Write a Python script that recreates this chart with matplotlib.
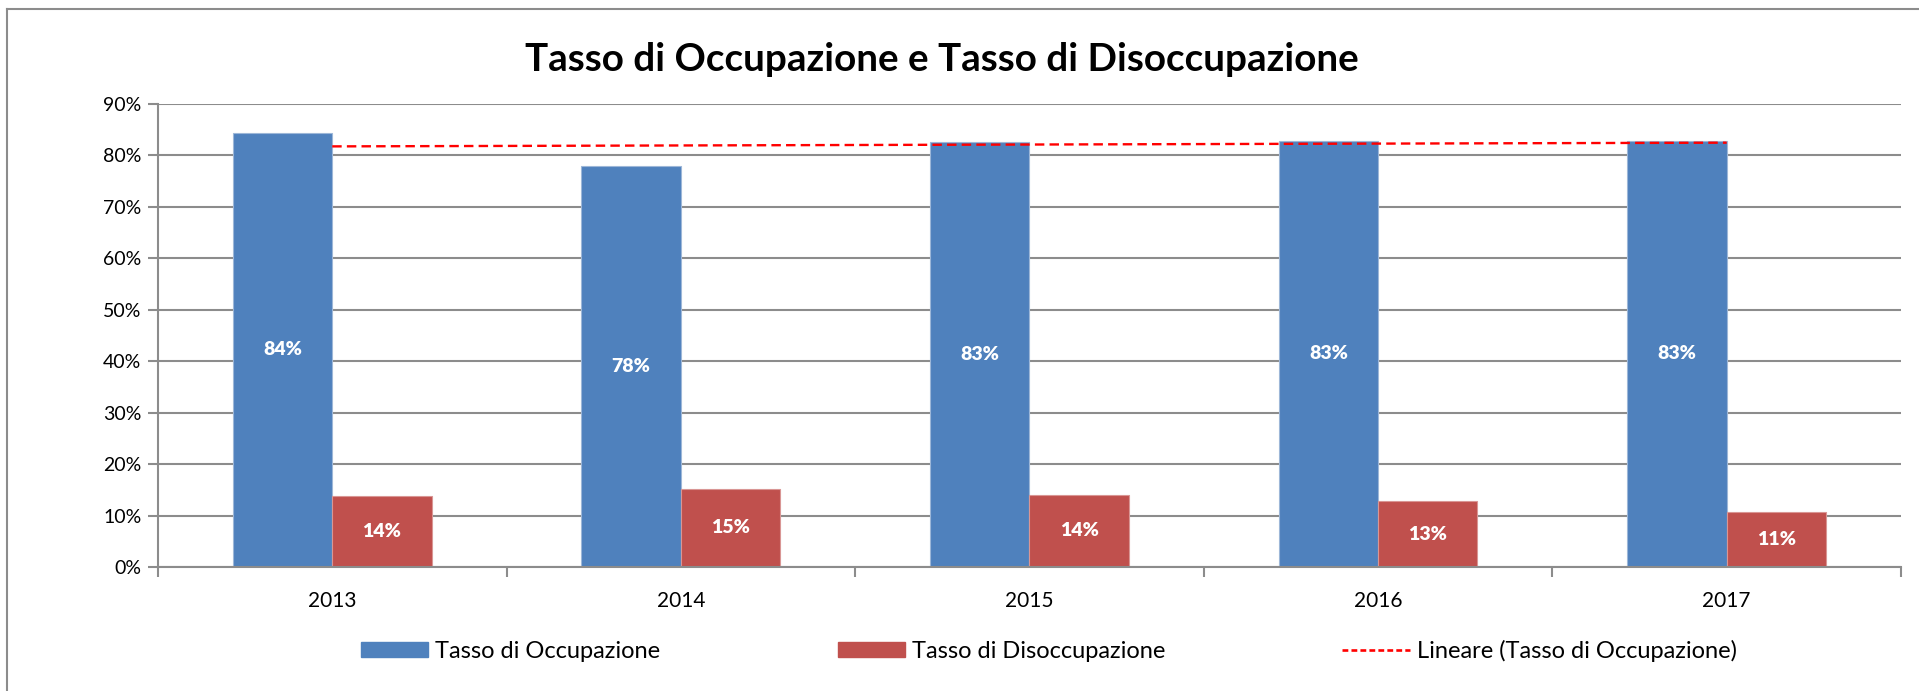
import numpy as np
import matplotlib
matplotlib.use("Agg")
import matplotlib.pyplot as plt
from matplotlib.ticker import PercentFormatter, FixedLocator
from matplotlib.lines import Line2D

plt.rcParams['font.family'] = ['Lato', 'DejaVu Sans']

# data (percent)
years = ['2013', '2014', '2015', '2016', '2017']
occupazione = [84.4, 77.9, 82.6, 82.9, 82.8]
disoccupazione = [13.7, 15.2, 14.0, 12.8, 10.7]

title = 'Tasso di Occupazione e Tasso di Disoccupazione'
label_occ = 'Tasso di Occupazione'
label_dis = 'Tasso di Disoccupazione'
label_trend = 'Lineare (Tasso di Occupazione)'

blue = '#4F81BD'
red = '#C0504D'
grid_col = '#8C8C8C'

fig = plt.figure(figsize=(19.19, 6.91), dpi=100)
ax = fig.add_axes([0.0823, 0.1795, 0.9083, 0.67])

x = np.arange(len(years))
w = 0.285
b1 = ax.bar(x - w / 2, occupazione, w, color=blue, edgecolor='#9DB7D8', linewidth=0.8, zorder=2)
b2 = ax.bar(x + w / 2, disoccupazione, w, color=red, edgecolor='#D99694', linewidth=0.8, zorder=2)

# linear trend of the employment rate, like excel's trendline
k, q = np.polyfit(x, occupazione, 1)
ax.plot(x, k * x + q, color='#FF0000', linestyle=(0, (4, 2.2)), linewidth=1.7, zorder=3)

# data labels in the middle of each bar
for bars, vals in ((b1, occupazione), (b2, disoccupazione)):
    for r, v in zip(bars, vals):
        ax.text(r.get_x() + r.get_width() / 2, v / 2, f'{v:.0f}%', ha='center', va='center',
                color='white', fontsize=14, fontweight='heavy', zorder=4)

ax.set_xlim(-0.5, len(years) - 0.5)
ax.set_ylim(0, 90)
ax.yaxis.set_major_locator(FixedLocator(np.arange(0, 91, 10)))
ax.yaxis.set_major_formatter(PercentFormatter(100, decimals=0))
ax.set_xticks(x)
ax.set_xticklabels(years)
ax.xaxis.set_minor_locator(FixedLocator(np.arange(-0.5, len(years), 1.0)))

ax.tick_params(axis='x', which='major', length=0, pad=17, labelsize=15)
ax.tick_params(axis='x', which='minor', length=7, width=1.5, color=grid_col, direction='out')
ax.tick_params(axis='y', length=7, width=1.5, color=grid_col, pad=5, labelsize=14)

ax.grid(axis='y', color=grid_col, linewidth=1.5, zorder=0)
ax.set_axisbelow(True)
for s in ('top', 'right'):
    ax.spines[s].set_visible(False)
for s in ('left', 'bottom'):
    ax.spines[s].set_color(grid_col)
    ax.spines[s].set_linewidth(1.5)

fig.text(0.491, 0.9146, title, ha='center', va='center', fontsize=27.8, fontweight='bold')

handles = [plt.Rectangle((0, 0), 1, 1, color=blue),
           plt.Rectangle((0, 0), 1, 1, color=red),
           Line2D([], [], color='#FF0000', linestyle=(0, (2.2, 1.2)), linewidth=1.9)]
fig.legend(handles, [label_occ, label_dis, label_trend], loc='center', ncol=3,
           bbox_to_anchor=(0.5466, 0.058), frameon=False, fontsize=17,
           handlelength=2.85, handleheight=0.64, handletextpad=0.3, columnspacing=7.5)

# outer chart border (left and top edges visible in the reference)
fig.add_artist(Line2D([0.0035, 0.0035], [0.0, 0.9865], color='#8C8C8C', linewidth=1.5))
fig.add_artist(Line2D([0.0035, 1.0], [0.9865, 0.9865], color='#8C8C8C', linewidth=1.5))

fig.savefig('out.png', dpi=100)
